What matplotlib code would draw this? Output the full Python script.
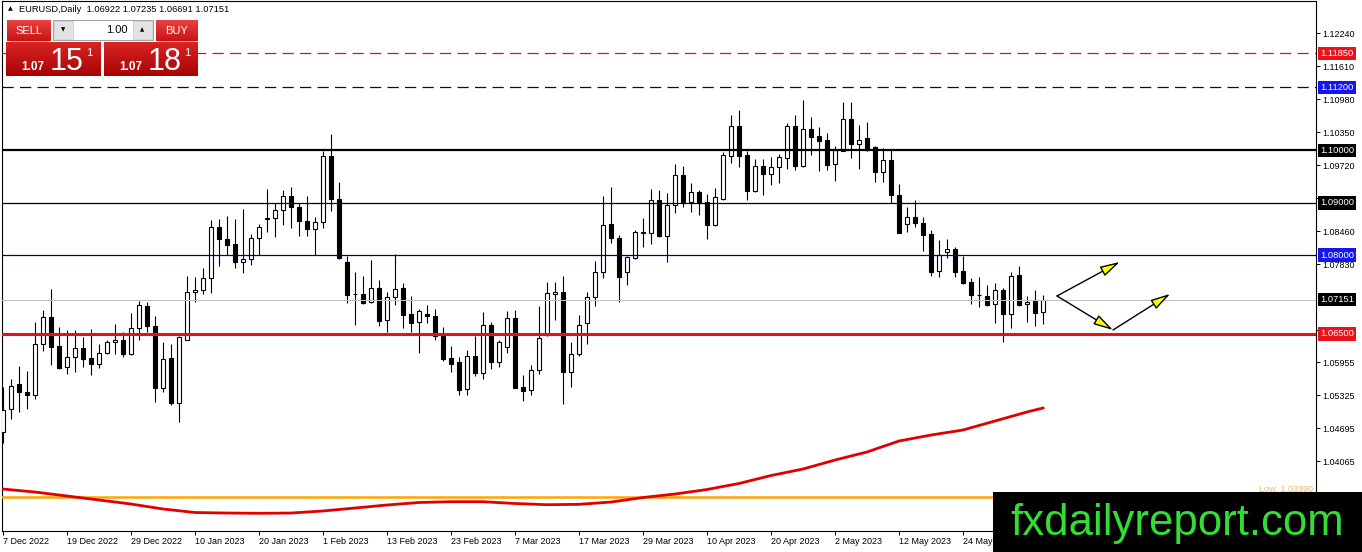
import numpy as np
import matplotlib
matplotlib.use('Agg')
import matplotlib.pyplot as plt
from matplotlib.colors import LinearSegmentedColormap
from matplotlib.transforms import blended_transform_factory
from matplotlib.patches import Rectangle

W, H = 1362, 552
plt.rcParams['font.family'] = ['Liberation Sans', 'DejaVu Sans']

# EURUSD daily candles, 7 Dec 2022 .. 7 Jun 2023
opens = [1.0463, 1.0506, 1.0553, 1.0538, 1.0532, 1.0630, 1.0681, 1.0626, 1.0586, 1.0605,
         1.0622, 1.0603, 1.0593, 1.0613, 1.0634, 1.0638, 1.0611, 1.0660, 1.0703, 1.0665,
         1.0546, 1.0603, 1.0518, 1.0638, 1.0729, 1.0733, 1.0756, 1.0853, 1.0830, 1.0821,
         1.0786, 1.0792, 1.0832, 1.0870, 1.0870, 1.0886, 1.0913, 1.0891, 1.0865, 1.0849,
         1.0863, 1.0989, 1.0908, 1.0787, 1.0726, 1.0726, 1.0710, 1.0737, 1.0677, 1.0720,
         1.0737, 1.0688, 1.0672, 1.0688, 1.0683, 1.0646, 1.0604, 1.0596, 1.0544, 1.0607,
         1.0574, 1.0666, 1.0595, 1.0624, 1.0679, 1.0548, 1.0543, 1.0581, 1.0648, 1.0725,
         1.0729, 1.0576, 1.0612, 1.0670, 1.0720, 1.0767, 1.0859, 1.0832, 1.0768, 1.0795,
         1.0845, 1.0842, 1.0905, 1.0837, 1.0896, 1.0953, 1.0902, 1.0920, 1.0901, 1.0858,
         1.0908, 1.0990, 1.1047, 1.0991, 1.0923, 1.0971, 1.0954, 1.0968, 1.0985, 1.1047,
         1.0971, 1.1041, 1.1028, 1.1020, 1.0973, 1.0999, 1.1059, 1.1012, 1.1023, 1.1006,
         1.0959, 1.0982, 1.0915, 1.0859, 1.0872, 1.0861, 1.0840, 1.0770, 1.0805, 1.0811,
         1.0770, 1.0748, 1.0724, 1.0722, 1.0706, 1.0733, 1.0687, 1.0762, 1.0706, 1.0712,
         1.06922]
highs = [1.0549, 1.0563, 1.0588, 1.0579, 1.0673, 1.0695, 1.0735, 1.0662, 1.0657, 1.0657,
         1.0644, 1.0658, 1.0630, 1.0637, 1.0668, 1.0653, 1.0689, 1.0713, 1.0710, 1.0684,
         1.0635, 1.0630, 1.0646, 1.0761, 1.0758, 1.0775, 1.0867, 1.0869, 1.0875, 1.0869,
         1.0888, 1.0840, 1.0859, 1.0926, 1.0899, 1.0924, 1.0930, 1.0899, 1.0912, 1.0873,
         1.0999, 1.1032, 1.0940, 1.0798, 1.0767, 1.0761, 1.0791, 1.0753, 1.0730, 1.0803,
         1.0746, 1.0722, 1.0697, 1.0704, 1.0697, 1.0662, 1.0627, 1.0605, 1.0619, 1.0646,
         1.0692, 1.0673, 1.0638, 1.0694, 1.0695, 1.0572, 1.0590, 1.0702, 1.0749, 1.0748,
         1.0760, 1.0635, 1.0686, 1.0729, 1.0789, 1.0913, 1.0930, 1.0838, 1.0798, 1.0848,
         1.0870, 1.0926, 1.0924, 1.0918, 1.0974, 1.0970, 1.0938, 1.0924, 1.0917, 1.0928,
         1.0997, 1.1068, 1.1077, 1.0999, 1.0984, 1.0983, 1.0988, 1.0993, 1.1052, 1.1068,
         1.1096, 1.1063, 1.1045, 1.1034, 1.1009, 1.1092, 1.1092, 1.1048, 1.1054, 1.1008,
         1.1004, 1.1001, 1.0936, 1.0891, 1.0905, 1.0872, 1.0848, 1.0829, 1.0831, 1.0815,
         1.0799, 1.0757, 1.0758, 1.0743, 1.0746, 1.0737, 1.0768, 1.0779, 1.0722, 1.0733,
         1.07235]
lows = [1.0442, 1.0487, 1.0501, 1.0506, 1.0525, 1.0617, 1.0591, 1.0582, 1.0573, 1.0577,
        1.0587, 1.0572, 1.0585, 1.0611, 1.0611, 1.0605, 1.0609, 1.0637, 1.0653, 1.0519,
        1.0539, 1.0514, 1.0482, 1.0637, 1.0711, 1.0725, 1.0728, 1.0780, 1.0800, 1.0775,
        1.0765, 1.0782, 1.0800, 1.0845, 1.0834, 1.0857, 1.0851, 1.0837, 1.0837, 1.0800,
        1.0851, 1.0885, 1.0792, 1.0708, 1.0667, 1.0707, 1.0708, 1.0665, 1.0654, 1.0705,
        1.0660, 1.0654, 1.0613, 1.0670, 1.0638, 1.0598, 1.0576, 1.0533, 1.0532, 1.0570,
        1.0564, 1.0582, 1.0587, 1.0614, 1.0546, 1.0522, 1.0533, 1.0573, 1.0646, 1.0676,
        1.0515, 1.0549, 1.0608, 1.0630, 1.0703, 1.0757, 1.0824, 1.0711, 1.0743, 1.0793,
        1.0816, 1.0821, 1.0835, 1.0786, 1.0881, 1.0891, 1.0882, 1.0876, 1.0831, 1.0856,
        1.0906, 1.0976, 1.0969, 1.0906, 1.0921, 1.0915, 1.0933, 1.0938, 1.0964, 1.0963,
        1.0968, 1.0991, 1.0961, 1.0963, 1.0942, 1.0998, 1.0986, 1.0964, 1.0999, 1.0940,
        1.0940, 1.0899, 1.0842, 1.0845, 1.0854, 1.0808, 1.0761, 1.0759, 1.0795, 1.0759,
        1.0745, 1.0706, 1.0700, 1.0703, 1.0671, 1.0634, 1.0660, 1.0702, 1.0673, 1.0665,
        1.06691]
closes = [1.0504, 1.0551, 1.0538, 1.0532, 1.0630, 1.0681, 1.0625, 1.0584, 1.0605, 1.0622,
          1.0602, 1.0593, 1.0613, 1.0634, 1.0637, 1.0611, 1.0660, 1.0705, 1.0665, 1.0546,
          1.0601, 1.0518, 1.0643, 1.0729, 1.0733, 1.0756, 1.0853, 1.0830, 1.0820, 1.0786,
          1.0792, 1.0832, 1.0854, 1.0868, 1.0886, 1.0913, 1.0891, 1.0866, 1.0849, 1.0863,
          1.0989, 1.0908, 1.0794, 1.0723, 1.0725, 1.0709, 1.0737, 1.0675, 1.0720, 1.0735,
          1.0686, 1.0671, 1.0693, 1.0683, 1.0645, 1.0602, 1.0593, 1.0542, 1.0607, 1.0574,
          1.0666, 1.0595, 1.0634, 1.0679, 1.0547, 1.0541, 1.0581, 1.0641, 1.0727, 1.0729,
          1.0576, 1.0612, 1.0667, 1.0720, 1.0767, 1.0857, 1.0832, 1.0759, 1.0796, 1.0844,
          1.0842, 1.0905, 1.0836, 1.0896, 1.0953, 1.0902, 1.0920, 1.0902, 1.0858, 1.0910,
          1.0991, 1.1047, 1.0990, 1.0923, 1.0971, 1.0954, 1.0968, 1.0987, 1.1047, 1.0971,
          1.1041, 1.1026, 1.1017, 1.0972, 1.1001, 1.1059, 1.1012, 1.1020, 1.1001, 1.0959,
          1.0982, 1.0914, 1.0843, 1.0872, 1.0861, 1.0838, 1.0768, 1.0801, 1.0811, 1.0768,
          1.0746, 1.0723, 1.0723, 1.0705, 1.0733, 1.0687, 1.0760, 1.0705, 1.0711, 1.0690,
          1.07151]

# red moving average, sampled every 4 bars
ma_idx = list(range(0, 129, 4)) + [130]
ma_vals = [1.03534, 1.03477, 1.03401, 1.03325, 1.03248, 1.03153, 1.03086, 1.03076, 1.03071,
           1.03076, 1.03115, 1.03172, 1.03229, 1.03277, 1.03292, 1.03292, 1.03258, 1.03235,
           1.03242, 1.03286, 1.03372, 1.03439, 1.03525, 1.03640, 1.03792, 1.03916, 1.04088,
           1.04241, 1.04451, 1.04565, 1.04661, 1.04833, 1.05005, 1.05081]

date_labels = ['7 Dec 2022', '19 Dec 2022', '29 Dec 2022', '10 Jan 2023', '20 Jan 2023',
               '1 Feb 2023', '13 Feb 2023', '23 Feb 2023', '7 Mar 2023', '17 Mar 2023',
               '29 Mar 2023', '10 Apr 2023', '20 Apr 2023', '2 May 2023', '12 May 2023',
               '24 May 2023']
price_ticks = [1.12240, 1.11610, 1.10980, 1.10350, 1.09720, 1.09090, 1.08460, 1.07830,
               1.06570, 1.05955, 1.05325, 1.04695, 1.04065]

# horizontal levels: (price, colour, width, style, label box colour)
levels = [(1.11850, '#e01010', 0.9, (0, (9, 5)), '#e8141a'),
          (1.11200, '#000080', 0.9, (0, (9, 5)), '#1515ee'),
          (1.10000, 'black', 1.6, '-', 'black'),
          (1.09000, 'black', 0.9, '-', 'black'),
          (1.08000, '#00008b', 0.9, '-', '#1515ee'),
          (1.07151, '#c0c0c0', 0.8, '-', 'black'),
          (1.06500, '#dd1515', 2.2, '-', '#e8141a')]
low_level = 1.0339
ask = 1.07181

# yellow arrows drawn on the chart (bar index, price)
arrow_start = (131.75, 1.0722)
arrow_up = (139.6, 1.0787)
arrow_dip = (138.75, 1.0657)
arrow_after = (145.9, 1.0726)

o, h, l, c = map(np.array, (opens, highs, lows, closes))
x = np.arange(len(o))

fig = plt.figure(figsize=(W / 100, H / 100), dpi=100)
ax = fig.add_axes([2 / W, 21 / H, 1314 / W, 530 / H])

# candles
up = c >= o
ax.vlines(x, l, h, color='black', lw=0.8, zorder=2)
ax.bar(x, np.maximum(np.abs(c - o), 0.00006), bottom=np.minimum(o, c), width=0.62,
       color=np.where(up, 'white', 'black'), edgecolor='black', linewidth=0.8, zorder=3)

ax.axhline(low_level, color='#ffa500', lw=1.8, zorder=3.5)
ax.plot(ma_idx, ma_vals, color='#e00000', lw=2, zorder=4)

trans = blended_transform_factory(ax.transAxes, ax.transData)
for lev, col, lw, ls, box in levels:
    ax.axhline(lev, color=col, lw=lw, linestyle=ls, zorder=4.5)
    ax.annotate(f'{lev:.5f}', xy=(1, lev), xycoords=trans, xytext=(4, 0),
                textcoords='offset pixels', ha='left', va='center', color='white',
                fontsize=6.7, annotation_clip=False, zorder=6,
                bbox=dict(boxstyle='square,pad=0.25', fc=box, ec='none'))
ax.annotate(f'Low: {low_level:.5f}', xy=(1, low_level), xycoords=trans, xytext=(-3, 3),
            textcoords='offset pixels', ha='right', va='bottom', color='#f2b560', fontsize=6.5)

arrow = dict(arrowstyle='-|>,head_length=1.2,head_width=0.32', fc='#ffff00', ec='black',
             lw=1, mutation_scale=10, shrinkA=0, shrinkB=0)
for a, b in [(arrow_start, arrow_up), (arrow_start, arrow_dip), (arrow_dip, arrow_after)]:
    ax.annotate('', xy=b, xytext=a, arrowprops=arrow, zorder=5)

ax.set_xlim(-0.125, 164.125)
ax.set_ylim(1.02733, 1.12851)
ax.yaxis.tick_right()
ax.set_yticks(price_ticks)
ax.set_yticklabels([f'{p:.5f}' for p in price_ticks])
ax.set_xticks(range(0, 8 * len(date_labels), 8))
ax.set_xticklabels(date_labels)
for t in ax.get_xticklabels():
    t.set_ha('left')
ax.tick_params(axis='both', direction='out', length=3, width=0.7, pad=1.5, labelsize=6.5)
for s in ax.spines.values():
    s.set_linewidth(0.8)

# overlay in pixel coordinates: trading panel, header, watermark
ov = fig.add_axes([0, 0, 1, 1], zorder=10)
ov.patch.set_alpha(0)
ov.axis('off')


def grad_rect(x0, y0, w, hgt, top, bot):
    cmap = LinearSegmentedColormap.from_list('g', [top, bot])
    ov.imshow(np.linspace(0, 1, 32).reshape(-1, 1), extent=(x0, x0 + w, y0 + hgt, y0),
              cmap=cmap, aspect='auto', interpolation='bilinear', zorder=2)


ov.text(8, 9, '\u25b2', fontsize=4.5, ha='left', va='center', family='DejaVu Sans')
ov.text(19, 9, f'EURUSD,Daily  {o[-1]:.5f} {h[-1]:.5f} {l[-1]:.5f} {c[-1]:.5f}',
        fontsize=6.7, ha='left', va='center')

grad_rect(7, 20, 44, 21, '#ec4040', '#c81414')
grad_rect(156, 20, 42, 21, '#ec4040', '#c81414')
ov.plot([10, 48], [40.5, 40.5], color='#f08a8a', lw=0.6, zorder=3)
ov.plot([159, 195], [40.5, 40.5], color='#f08a8a', lw=0.6, zorder=3)
ov.text(29, 30.5, 'SELL', color='white', fontsize=8, ha='center', va='center', zorder=4)
ov.text(177, 30.5, 'BUY', color='white', fontsize=8, ha='center', va='center', zorder=4)
ov.add_patch(Rectangle((53, 20), 100, 20, fc='white', ec='#a0a0a0', lw=0.7, zorder=2))
ov.add_patch(Rectangle((54, 21), 19, 18, fc='#e3e3e3', ec='#c8c8c8', lw=0.5, zorder=3))
ov.add_patch(Rectangle((133, 21), 19, 18, fc='#e3e3e3', ec='#c8c8c8', lw=0.5, zorder=3))
ov.text(63.5, 30, '\u25bc', fontsize=4, ha='center', va='center', family='DejaVu Sans', zorder=4)
ov.text(142.5, 30, '\u25b2', fontsize=4, ha='center', va='center', family='DejaVu Sans', zorder=4)
ov.text(128, 30, '1.00', fontsize=8, ha='right', va='center', zorder=4)

grad_rect(6, 42, 95, 34, '#d82424', '#a80404')
grad_rect(104, 42, 94, 34, '#d82424', '#a80404')
for price, x0 in [(c[-1], 21), (ask, 119)]:
    s = f'{price:.5f}'
    ov.text(x0, 69.5, s[:4], color='white', fontsize=8.5, fontweight='bold', ha='left',
            va='baseline', zorder=4)
    ov.text(x0 + 29, 70, s[4:6], color='white', fontsize=22, ha='left', va='baseline', zorder=4)
    ov.text(x0 + 65, 56, s[6], color='white', fontsize=8, ha='left', va='baseline', zorder=4)

ov.add_patch(Rectangle((993, 492), W - 993, H - 492, fc='black', ec='none', zorder=2))
ov.text(1010, 535, 'fxdailyreport.com', color='#33dd33', fontsize=31.5, ha='left',
        va='baseline', zorder=4)

ov.set_xlim(0, W)
ov.set_ylim(H, 0)

fig.savefig('out.png', dpi=100)
